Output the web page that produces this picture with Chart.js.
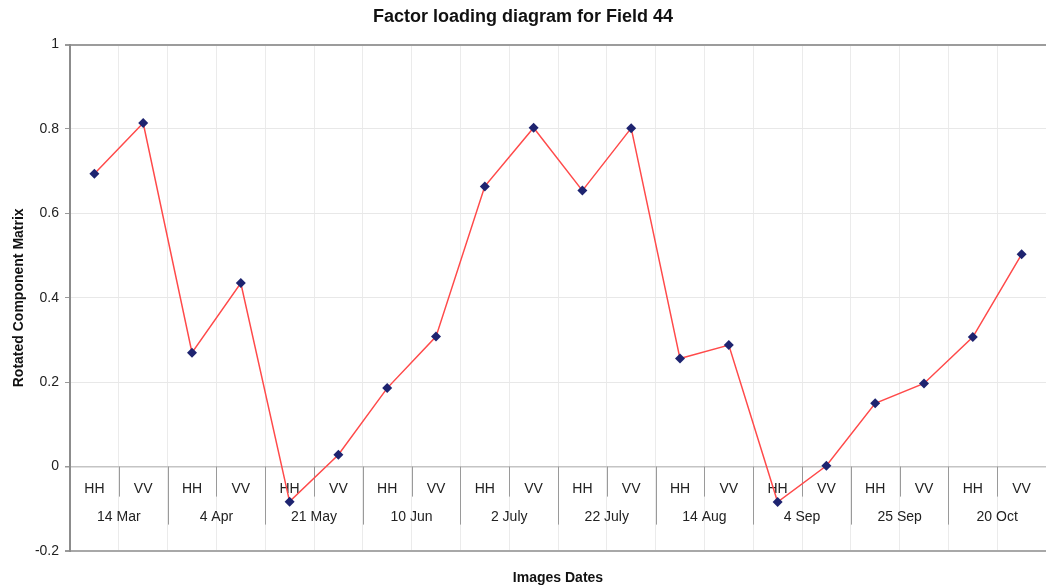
<!DOCTYPE html>
<html>
<head>
<meta charset="utf-8">
<script src="https://cdn.jsdelivr.net/npm/chart.js@4"></script>
<style>
    html, body { margin: 0; padding: 0; background: #fff; }
    canvas { display: block; }
</style>
</head>
<body>
<canvas id="loadingChart" width="1046" height="588"></canvas>
<script>
// Data
const dates = ['14 Mar', '4 Apr', '21 May', '10 Jun', '2 July', '22 July', '14 Aug', '4 Sep', '25 Sep', '20 Oct'];
const polarisations = ['HH', 'VV'];
const loadings = [0.694, 0.814, 0.270, 0.435, -0.083, 0.028, 0.186, 0.308, 0.664, 0.803,
                  0.654, 0.802, 0.256, 0.288, -0.084, 0.002, 0.150, 0.197, 0.307, 0.503];
const yTicks = [-0.2, 0, 0.2, 0.4, 0.6, 0.8, 1];

const categories = dates.flatMap(d => polarisations.map(p => p + ' ' + d));

const FONT = "'Liberation Sans', Arial, sans-serif";

// Draws the two-level category labels along the zero line
const zeroAxisLabels = {
    id: 'zeroAxisLabels',
    beforeDatasetsDraw(chart) {
        const { ctx, scales: { x, y } } = chart;
        const y0 = y.getPixelForValue(0);
        const half = (x.getPixelForValue(1) - x.getPixelForValue(0)) / 2;

        ctx.save();
        ctx.strokeStyle = '#9a9a9a';
        ctx.lineWidth = 1;
        ctx.fillStyle = '#222';
        ctx.font = '14px ' + FONT;
        ctx.textAlign = 'center';
        ctx.textBaseline = 'middle';

        categories.forEach((c, i) => {
            const px = x.getPixelForValue(i);
            ctx.fillText(polarisations[i % polarisations.length], px, y0 + 23);
            if (i > 0) {
                const len = i % 2 === 0 ? 58 : 30;
                const sx = Math.round(px - half) + 0.5;
                ctx.beginPath();
                ctx.moveTo(sx, y0);
                ctx.lineTo(sx, y0 + len);
                ctx.stroke();
            }
        });

        dates.forEach((d, g) => {
            const cx = (x.getPixelForValue(2 * g) + x.getPixelForValue(2 * g + 1)) / 2;
            ctx.fillText(d, cx, y0 + 51);
        });
        ctx.restore();
    }
};

function gridColor(ctx) {
    const v = ctx.tick ? ctx.tick.value : null;
    if (v === 1) return '#9c9c9c';
    if (v === -0.2) return '#a8a8a8';
    if (v === 0) return '#c4c4c4';
    return '#e8e8e8';
}

function gridWidth(ctx) {
    const v = ctx.tick ? ctx.tick.value : null;
    if (v === 1 || v === -0.2) return 2;
    if (v === 0) return 1.5;
    return 1;
}

const ctx = document.getElementById('loadingChart').getContext('2d');
const loadingChart = new Chart(ctx, {
    type: 'line',
    data: {
        labels: categories,
        datasets: [{
            label: 'Loading',
            data: loadings,
            borderColor: '#ff4a4a',
            borderWidth: 1.5,
            tension: 0,
            fill: false,
            pointStyle: 'rectRot',
            pointRadius: 5,
            pointBackgroundColor: '#1e2470',
            pointBorderColor: '#1e2470',
            pointBorderWidth: 0
        }]
    },
    options: {
        responsive: false,
        animation: false,
        layout: { autoPadding: false, padding: { left: 0, right: 0, top: 0, bottom: 0 } },
        plugins: {
            legend: { display: false },
            tooltip: { enabled: false },
            title: {
                display: true,
                text: 'Factor loading diagram for Field 44',
                color: '#111',
                font: { family: FONT, size: 18, weight: 'bold' },
                padding: { top: 6, bottom: 17 }
            }
        },
        scales: {
            x: {
                offset: true,
                ticks: { display: false },
                grid: { color: '#ebebeb', offset: true, drawTicks: false },
                border: { display: false },
                title: {
                    display: true,
                    text: 'Images Dates',
                    color: '#111',
                    font: { family: FONT, size: 14, weight: 'bold' },
                    padding: { top: 20, bottom: 1 }
                },
                afterFit(scale) { scale.height = 37; }
            },
            y: {
                min: -0.2,
                max: 1,
                afterBuildTicks(scale) { scale.ticks = yTicks.map(v => ({ value: v })); },
                ticks: {
                    color: '#222',
                    padding: 6,
                    font: { family: FONT, size: 14 },
                    callback: v => String(yTicks.find(t => Math.abs(t - v) < 1e-9))
                },
                grid: { color: gridColor, lineWidth: gridWidth, tickLength: 5, tickColor: '#999' },
                border: { color: '#8c8c8c', width: 2 },
                title: {
                    display: true,
                    text: 'Rotated Component Matrix',
                    color: '#111',
                    font: { family: FONT, size: 14, weight: 'bold' },
                    padding: { top: 11, bottom: 0 }
                },
                afterFit(scale) { scale.width = 70; }
            }
        }
    },
    plugins: [zeroAxisLabels]
});
</script>
</body>
</html>
